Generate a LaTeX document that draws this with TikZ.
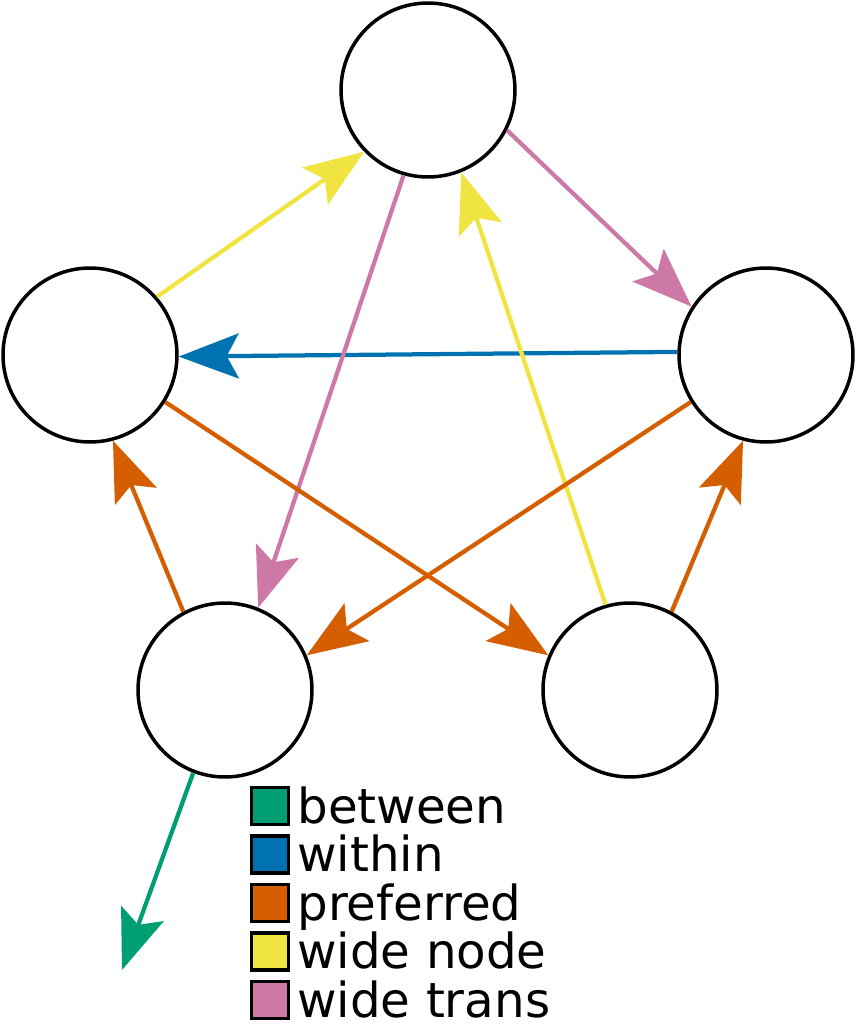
\documentclass[tikz,border=0pt]{standalone}
\usepackage{fontspec}
\setmainfont{DejaVu Sans}
\usetikzlibrary{arrows.meta}

\definecolor{betweencol}{RGB}{0,158,115}
\definecolor{withincol}{RGB}{0,114,178}
\definecolor{preferredcol}{RGB}{213,94,0}
\definecolor{widenodecol}{RGB}{240,228,66}
\definecolor{widetranscol}{RGB}{204,121,167}

\tikzset{
  state/.style={circle, draw, line width=0.07cm, minimum size=3.48cm, inner sep=0pt},
  move/.style={line width=0.085cm, -{Stealth[length=1.2cm, width=0.9cm, inset=0.24cm]}},
  keybox/.style={draw, line width=0.07cm, minimum size=0.74cm, inner sep=0pt}
}

\begin{document}
\begin{tikzpicture}[x=0.02cm, y=-0.02cm]
  \useasboundingbox (0,0) rectangle (856,1024);

  % the five states
  \node[state] (top) at (428,90) {};
  \node[state] (left) at (90,355) {};
  \node[state] (right) at (766,355) {};
  \node[state] (botleft) at (225,690) {};
  \node[state] (botright) at (630,690) {};

  % moves between them
  \draw[move, widenodecol] (left.41) -- (top.-136);
  \draw[move, widetranscol] (top.-27) -- (right.147);
  \draw[move, withincol] (right.178) -- (left.-1);
  \draw[move, widetranscol] (top.-106) -- (botleft.68);
  \draw[move, widenodecol] (botright.106) -- (top.-68);
  \draw[move, preferredcol] (left.-32) -- (botright.157);
  \draw[move, preferredcol] (right.-148) -- (botleft.23);
  \draw[move, preferredcol] (botleft.118) -- (left.-75);
  \draw[move, preferredcol] (botright.62) -- (right.-105);

  \coordinate (out) at (122,970);
  \draw[move, betweencol] (botleft.-111) -- (out);

  % legend
  \foreach \col/\txt [count=\i from 0] in {betweencol/between, withincol/within, preferredcol/preferred, widenodecol/wide node, widetranscol/wide trans} {
    \node[keybox, fill=\col] (key\i) at (270,806+48.5*\i) {};
    \node[anchor=base west, inner sep=0pt, font=\fontsize{27.5}{33}\selectfont] (lab\i) at (297,823+48.5*\i) {\txt};
  }
\end{tikzpicture}
\end{document}
